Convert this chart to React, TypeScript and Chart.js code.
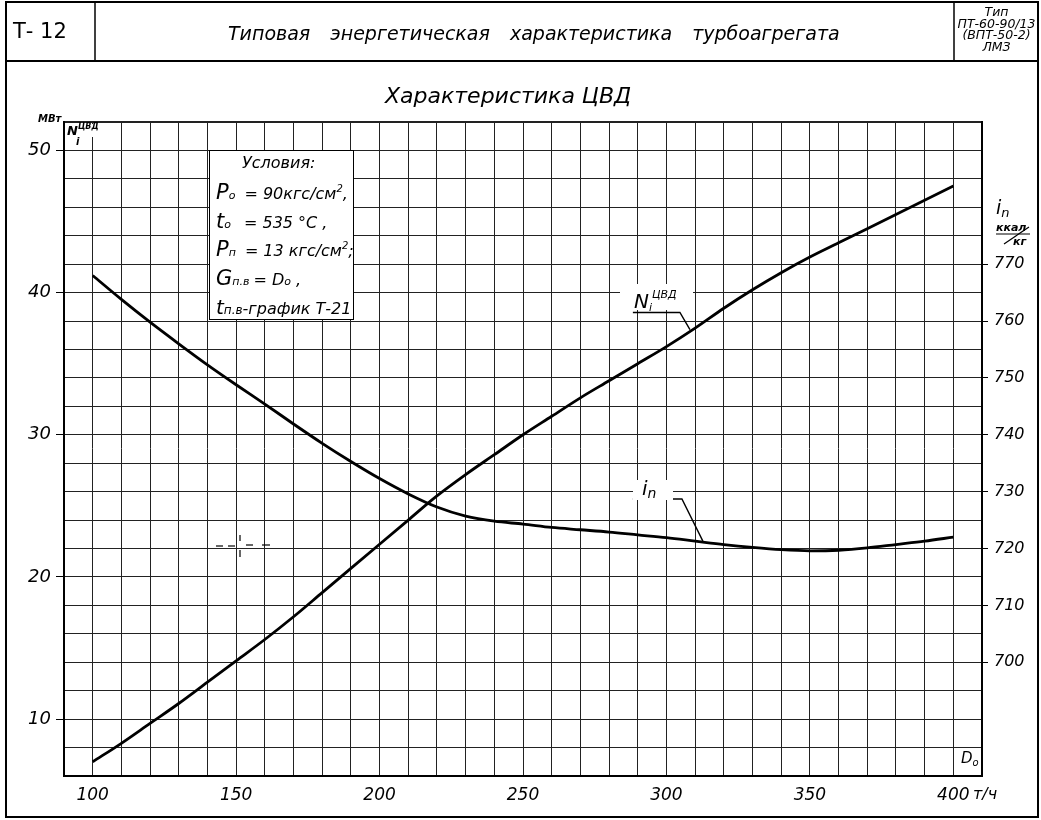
import React, { useEffect, useRef } from "react";
import { Chart, registerables } from "chart.js";

Chart.register(...registerables);

// ---- data ----
const flowValues = [100, 110, 120, 130, 140, 150, 160, 170, 180, 190, 200, 210, 220, 230, 240, 250, 260, 270, 280, 290, 300, 310, 320, 330, 340, 350, 360, 370, 380, 390, 400];
// N_i ЦВД, МВт (left axis)
const powerHP = [7.0, 8.3, 9.7, 11.1, 12.6, 14.1, 15.6, 17.2, 18.9, 20.6, 22.3, 24.0, 25.7, 27.2, 28.6, 30.0, 31.3, 32.6, 33.8, 35.0, 36.2, 37.5, 38.9, 40.2, 41.4, 42.5, 43.5, 44.5, 45.5, 46.5, 47.5];
// i_n, ккал/кг (right axis)
const extractionEnthalpy = [768.0, 763.8, 759.8, 756.0, 752.3, 748.8, 745.4, 741.9, 738.5, 735.3, 732.3, 729.6, 727.3, 725.7, 724.8, 724.3, 723.7, 723.3, 722.9, 722.4, 721.9, 721.3, 720.7, 720.2, 719.8, 719.6, 719.7, 720.1, 720.7, 721.3, 722.0];
const xLabelValues = [100, 150, 200, 250, 300, 350, 400];
const leftLabelValues = [10, 20, 30, 40, 50];
const rightLabelValues = [700, 710, 720, 730, 740, 750, 760, 770];

const FONT = "'DejaVu Sans', 'Liberation Sans', sans-serif";

const abs = (left: number, top: number, extra: React.CSSProperties = {}): React.CSSProperties => ({
  position: "absolute",
  left,
  top,
  fontFamily: FONT,
  fontStyle: "italic",
  color: "#000",
  whiteSpace: "nowrap",
  lineHeight: 1,
  ...extra,
});

export default function App() {
  const canvasRef = useRef<HTMLCanvasElement | null>(null);

  useEffect(() => {
    const canvas = canvasRef.current;
    if (!canvas) return;

    const leaders = {
      id: "leaders",
      afterDatasetsDraw(chart: any) {
        const { ctx } = chart;
        const x = chart.scales.x;
        const yL = chart.scales.yL;
        const yR = chart.scales.yR;
        ctx.save();
        ctx.strokeStyle = "#000";
        ctx.lineWidth = 1.4;
        ctx.beginPath();
        ctx.moveTo(x.getPixelForValue(288.3), yL.getPixelForValue(38.6));
        ctx.lineTo(x.getPixelForValue(304.7), yL.getPixelForValue(38.6));
        ctx.lineTo(x.getPixelForValue(308.2), yL.getPixelForValue(37.4));
        ctx.stroke();
        ctx.beginPath();
        ctx.moveTo(x.getPixelForValue(288.3), yR.getPixelForValue(728.7));
        ctx.lineTo(x.getPixelForValue(305.4), yR.getPixelForValue(728.7));
        ctx.lineTo(x.getPixelForValue(312.7), yR.getPixelForValue(721.3));
        ctx.stroke();
        ctx.restore();
      },
    };

    const chart = new Chart(canvas, {
      type: "line",
      data: {
        datasets: [
          {
            data: flowValues.map((f, i) => ({ x: f, y: powerHP[i] })),
            yAxisID: "yL",
            borderColor: "#000",
            borderWidth: 2.8,
            pointRadius: 0,
            cubicInterpolationMode: "monotone",
          },
          {
            data: flowValues.map((f, i) => ({ x: f, y: extractionEnthalpy[i] })),
            yAxisID: "yR",
            borderColor: "#000",
            borderWidth: 2.8,
            pointRadius: 0,
            cubicInterpolationMode: "monotone",
          },
        ],
      },
      options: {
        animation: false,
        responsive: false,
        devicePixelRatio: 1,
        layout: { padding: { top: 122, left: 0, right: 0, bottom: 0 } },
        plugins: {
          legend: { display: false },
          tooltip: { enabled: false },
          title: { display: false },
        },
        scales: {
          x: {
            type: "linear",
            min: 90,
            max: 410,
            afterFit: (s: any) => {
              s.height = 44;
            },
            ticks: {
              stepSize: 10,
              autoSkip: false,
              maxRotation: 0,
              padding: 9,
              color: "#000",
              font: { family: FONT, style: "italic", size: 17 },
              callback: (v: any) => (xLabelValues.includes(Number(v)) ? String(v) : ""),
            },
            grid: {
              color: "#222",
              lineWidth: 1,
              drawTicks: false,
            },
            border: { display: true, color: "#000", width: 2 },
          },
          yL: {
            type: "linear",
            position: "left",
            min: 6,
            max: 52,
            afterFit: (s: any) => {
              s.width = 64;
            },
            ticks: {
              stepSize: 2,
              autoSkip: false,
              padding: 5,
              color: "#000",
              font: { family: FONT, style: "italic", size: 18 },
              callback: (v: any) => (leftLabelValues.includes(Number(v)) ? String(v) : ""),
            },
            grid: {
              color: "#222",
              lineWidth: (c: any) => (c.tick && c.tick.value === 52 ? 2 : 1),
              tickLength: 8,
              tickColor: (c: any) => (c.tick && leftLabelValues.includes(c.tick.value) ? "#000" : "rgba(0,0,0,0)"),
            },
            border: { display: true, color: "#000", width: 2 },
          },
          yR: {
            type: "linear",
            position: "right",
            min: 680,
            max: 795,
            afterFit: (s: any) => {
              s.width = 59;
            },
            ticks: {
              stepSize: 5,
              autoSkip: false,
              padding: 6,
              color: "#000",
              font: { family: FONT, style: "italic", size: 16 },
              callback: (v: any) => (rightLabelValues.includes(Number(v)) ? String(v) : ""),
            },
            grid: {
              drawOnChartArea: false,
              tickLength: 6,
              tickColor: (c: any) => (c.tick && rightLabelValues.includes(c.tick.value) ? "#000" : "rgba(0,0,0,0)"),
            },
            border: { display: true, color: "#000", width: 2 },
          },
        },
      },
      plugins: [leaders],
    } as any);

    return () => chart.destroy();
  }, []);

  return (
    <div style={{ position: "absolute", left: 0, top: 0, width: 1041, height: 820, background: "#fff", overflow: "hidden" }}>
      <canvas ref={canvasRef} width={1041} height={820} style={{ position: "absolute", left: 0, top: 0, width: 1041, height: 820 }} />

      {/* frame lines */}
      <svg width={1041} height={820} style={{ position: "absolute", left: 0, top: 0, pointerEvents: "none" }}>
        <rect x={6} y={2} width={1032} height={815} fill="none" stroke="#000" strokeWidth={2} />
        <line x1={6} y1={61} x2={1038} y2={61} stroke="#000" strokeWidth={2} />
        <line x1={95} y1={2} x2={95} y2={61} stroke="#000" strokeWidth={1.5} />
        <line x1={954} y1={2} x2={954} y2={61} stroke="#000" strokeWidth={1.5} />
        {/* ккал/кг fraction stroke */}
        <line x1={996} y1={234} x2={1030} y2={234} stroke="#000" strokeWidth={1.2} />
        <line x1={1004} y1={244} x2={1029} y2={227} stroke="#000" strokeWidth={1.2} />
        {/* small pencil cross mark on the grid */}
        <g stroke="#000" strokeWidth={1.2}>
          <line x1={216} y1={546} x2={223} y2={546} />
          <line x1={228} y1={546} x2={235} y2={546} />
          <line x1={246} y1={545} x2={253} y2={545} />
          <line x1={262} y1={545} x2={270} y2={545} />
          <line x1={240} y1={535} x2={240} y2={541} />
          <line x1={240} y1={550} x2={240} y2={557} />
        </g>
      </svg>

      {/* header */}
      <div style={abs(13, 21, { fontSize: 21, fontStyle: "normal" })}>Т- 12</div>
      <div style={abs(228, 24, { fontSize: 19, wordSpacing: 14 })}>Типовая энергетическая характеристика турбоагрегата</div>
      <div style={abs(955, 6, { width: 83, textAlign: "center", fontSize: 12.5, lineHeight: "11.6px", fontStyle: "italic" })}>
        Тип
        <br />
        ПТ-60-90/13
        <br />
        (ВПТ-50-2)
        <br />
        ЛМЗ
      </div>

      {/* chart title */}
      <div style={abs(385, 85, { fontSize: 22 })}>Характеристика ЦВД</div>

      {/* axis unit labels */}
      <div style={abs(38, 114, { fontSize: 10, fontWeight: "bold" })}>МВт</div>
      <div style={abs(66, 124, { fontSize: 13, fontWeight: "bold", background: "#fff", padding: "0 1px" })}>
        N<span style={{ fontSize: 8, position: "relative", top: -6 }}>ЦВД</span>
      </div>
      <div style={abs(76, 137, { fontSize: 10, fontWeight: "bold" })}>i</div>
      <div style={abs(996, 198, { fontSize: 19 })}>
        i<span style={{ fontSize: 13, position: "relative", top: 3 }}>n</span>
      </div>
      <div style={abs(996, 222, { fontSize: 11, fontWeight: "bold" })}>ккал</div>
      <div style={abs(1013, 236, { fontSize: 11, fontWeight: "bold" })}>кг</div>
      <div style={abs(961, 751, { fontSize: 15, background: "#fff" })}>
        D<span style={{ fontSize: 10, position: "relative", top: 3 }}>o</span>
      </div>
      <div style={abs(973, 786, { fontSize: 16 })}>т/ч</div>

      {/* curve labels */}
      <div style={abs(620, 284, { width: 73, height: 26, background: "#fff" })} />
      <div style={abs(634, 291, { fontSize: 20 })}>
        N<span style={{ fontSize: 11, position: "relative", top: 3 }}>i</span>
        <span style={{ fontSize: 11, position: "relative", top: -10 }}>ЦВД</span>
      </div>
      <div style={abs(633, 480, { width: 40, height: 20, background: "#fff" })} />
      <div style={abs(642, 478, { fontSize: 20 })}>
        i<span style={{ fontSize: 14, position: "relative", top: 3 }}>n</span>
      </div>

      {/* conditions box */}
      <div style={{ position: "absolute", left: 209, top: 150, width: 145, height: 170, background: "#fff", border: "1.5px solid #000", boxSizing: "border-box" }} />
      <div style={abs(242, 155, { fontSize: 16 })}>Условия:</div>
      <div style={abs(216, 182, { fontSize: 16 })}>
        <span style={{ fontSize: 21 }}>P</span>
        <span style={{ fontSize: 11 }}>o</span>
        <span style={{ marginLeft: 9 }}>= 90кгс/см</span>
        <span style={{ fontSize: 10, position: "relative", top: -7 }}>2</span>,
      </div>
      <div style={abs(216, 211, { fontSize: 16 })}>
        <span style={{ fontSize: 21 }}>t</span>
        <span style={{ fontSize: 11 }}>o</span>
        <span style={{ marginLeft: 13 }}>= 535 °C ,</span>
      </div>
      <div style={abs(216, 239, { fontSize: 16 })}>
        <span style={{ fontSize: 21 }}>P</span>
        <span style={{ fontSize: 11 }}>п</span>
        <span style={{ marginLeft: 9 }}>= 13 кгс/см</span>
        <span style={{ fontSize: 10, position: "relative", top: -7 }}>2</span>;
      </div>
      <div style={abs(216, 268, { fontSize: 16 })}>
        <span style={{ fontSize: 21 }}>G</span>
        <span style={{ fontSize: 11 }}>п.в</span>
        <span style={{ marginLeft: 4 }}>= D</span>
        <span style={{ fontSize: 11 }}>o</span> ,
      </div>
      <div style={abs(216, 297, { fontSize: 16 })}>
        <span style={{ fontSize: 20 }}>t</span>
        <span style={{ fontSize: 12 }}>п.в</span>-график Т-21
      </div>
    </div>
  );
}
